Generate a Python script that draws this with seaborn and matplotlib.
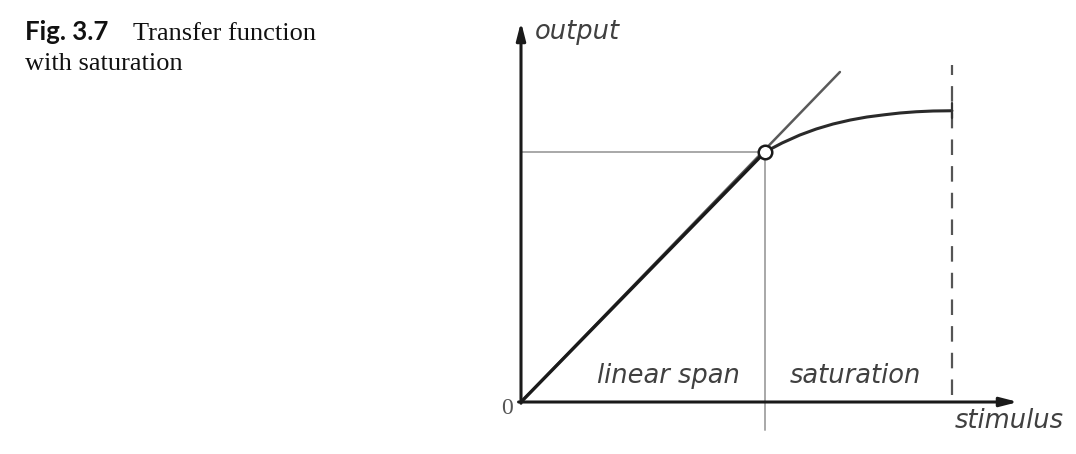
import numpy as np
import pandas as pd
import matplotlib
matplotlib.use("Agg")
import matplotlib.pyplot as plt
import seaborn as sns

# ---- data (normalised: knee at stimulus=1, output=1) ----
linear_x = [0.0, 1.0]
linear_y = [0.0, 1.0]
tangent_x = [0.0, 1.307]
tangent_y = [0.0, 1.32]
sat_x = [1.0, 1.07, 1.143, 1.21, 1.279, 1.35, 1.418, 1.49, 1.553, 1.62, 1.689, 1.766]
sat_y = [1.0, 1.036, 1.068, 1.092, 1.112, 1.128, 1.14, 1.149, 1.156, 1.161, 1.164, 1.165]
knee_x = [1.0]
knee_y = [1.0]
limit_x = 1.766
labels = ["linear span", "saturation"]

sns.set_style("white")
W, H = 1076, 454
fig = plt.figure(figsize=(W / 100, H / 100), dpi=100)
ax = fig.add_axes([0, 0, 1, 1])

# pixel mapping
ox, oy, sx, sy = 521, 402, 244, 250
ax.set_xlim(-ox / sx, (W - ox) / sx)
ax.set_ylim((oy - H) / sy, oy / sy)
ax.axis("off")

gray = "#a8a8a8"
# guide lines
sns.lineplot(x=[0, 1], y=[1, 1], ax=ax, color=gray, lw=1.4, sort=False, estimator=None)
ax.plot([1, 1], [1, (oy - 430) / sy], color=gray, lw=1.4)
# dashed limit
ax.plot([limit_x, limit_x], [0.03, (oy - 65) / sy], color="#555555", lw=1.6,
        dashes=(7, 5))
# tangent
sns.lineplot(x=tangent_x, y=tangent_y, ax=ax, color="#5a5a5a", lw=1.8, sort=False,
             estimator=None)
# transfer function
sns.lineplot(x=linear_x, y=linear_y, ax=ax, color="#1a1a1a", lw=2.4, sort=False,
             estimator=None)
sns.lineplot(x=sat_x, y=sat_y, ax=ax, color="#2a2a2a", lw=2.2, sort=False,
             estimator=None)
ax.plot([limit_x, limit_x], [sat_y[-1] - 0.03, sat_y[-1] + 0.03], color="#333333", lw=1.6)

# axes with arrows
arrow = dict(arrowstyle="-|>,head_length=0.7,head_width=0.18", color="#1a1a1a",
             lw=2.2, mutation_scale=15, shrinkA=0, shrinkB=0)
ax.annotate("", xy=((1018 - ox) / sx, 0), xytext=(-0.01, 0), arrowprops=arrow)
ax.annotate("", xy=(0, (oy - 22) / sy), xytext=(0, -0.005), arrowprops=arrow)

# knee marker
sns.scatterplot(x=knee_x, y=knee_y, ax=ax, s=95, color="white",
                edgecolor="#1a1a1a", linewidth=1.8, zorder=5)

lab = dict(fontsize=18.5, style="italic", color="#404040", family="DejaVu Sans")
ax.text(0.057, (oy - 32) / sy, "output", ha="left", va="center", **lab)
ax.text((955 - ox) / sx, (oy - 421) / sy, "stimulus", ha="left", va="center", **lab)
ax.text((668 - ox) / sx, (oy - 376) / sy, labels[0], ha="center", va="center", **lab)
ax.text((855 - ox) / sx, (oy - 376) / sy, labels[1], ha="center", va="center", **lab)
ax.text(-0.035, -0.025, "0", ha="right", va="center", fontsize=17,
        family="Liberation Serif", color="#555555")

# caption
fig.text(25 / W, 1 - 40 / H, "Fig. 3.7", fontsize=18.5, fontweight="bold",
         family="Lato", va="baseline", ha="left", color="#111111")
fig.text(133 / W, 1 - 40 / H, "Transfer function", fontsize=19,
         family="Liberation Serif", va="baseline", ha="left", color="#111111")
fig.text(25 / W, 1 - 70 / H, "with saturation", fontsize=19,
         family="Liberation Serif", va="baseline", ha="left", color="#111111")

fig.savefig("out.png", dpi=100)
